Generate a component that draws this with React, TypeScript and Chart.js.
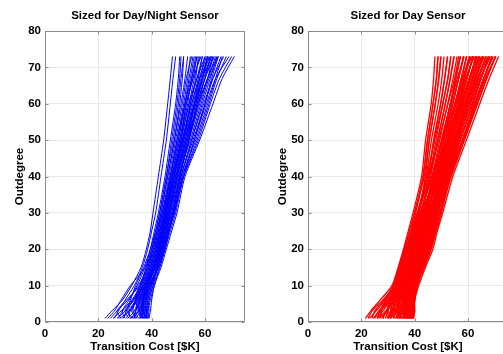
import React, { useEffect, useRef } from "react";
import { Chart, registerables } from "chart.js";

Chart.register(...registerables);

// Outdegree levels at which each curve's transition cost is read
const OUTDEGREE_LEVELS = [1, 3, 6, 10, 15, 20, 25, 30, 40, 50, 60, 67, 73];
const X_TICKS = [0, 20, 40, 60];
const Y_TICKS = [0, 10, 20, 30, 40, 50, 60, 70, 80];

const TITLE_LEFT = "Sized for Day/Night Sensor";
const TITLE_RIGHT = "Sized for Day Sensor";
const X_LABEL = "Transition Cost [$K]";
const Y_LABEL = "Outdegree";

// Transition cost [$K] of each blue curve at the outdegree levels
const DAYNIGHT_COSTS: number[][] = [
  [22.5, 25, 29, 32.5, 36, 38, 39.5, 40.5, 42.5, 44.5, 46, 47, 47.8],
  [26, 27.5, 30, 33.5, 36.5, 38.5, 40, 41.5, 43.5, 45.5, 47, 48, 49],
  [30, 29, 31.5, 34.5, 37.5, 39.5, 41, 42.5, 45, 47, 49, 50, 50.5],
  [33, 31, 33, 35.5, 38, 40, 41.5, 43, 45.5, 48, 50, 51, 52],
  [34.5, 33, 34, 36, 38.5, 40.5, 42, 43.5, 46, 48.5, 51, 52.5, 53.5],
  [29, 31.5, 34.5, 36.5, 39, 41, 42.5, 44, 46.5, 49, 51.5, 53, 55],
  [36, 35, 35.5, 37, 39.5, 41.5, 43, 44.5, 47, 50, 52.5, 54.5, 56],
  [31, 33.5, 35, 37.5, 40, 42, 43.5, 45, 47.5, 50.5, 53, 55.5, 57],
  [37, 36, 36.5, 38, 40.5, 42.5, 44, 45.5, 48, 51, 54, 56, 58],
  [27, 30, 33, 37, 40, 42, 43.5, 45, 48, 51.5, 55, 57.5, 59],
  [35, 34, 35.5, 38.5, 41, 43, 44.5, 46, 49, 52, 55.5, 58, 60],
  [38, 37.5, 37.5, 39, 41, 43, 45, 46.5, 49.5, 53, 56.5, 59, 61],
  [32, 35, 36.5, 38.5, 41.5, 43.5, 45, 47, 50, 53.5, 57, 60, 62],
  [36.5, 37, 38, 39.5, 42, 44, 45.5, 47.5, 50.5, 54, 58, 61, 63],
  [38.5, 38, 38.5, 40, 42.5, 44.5, 46, 48, 51, 55, 59, 62, 64.5],
  [34, 36, 37, 39, 42, 44, 46, 48.5, 51.5, 56, 60, 63, 66],
  [37.5, 38.5, 39, 40.5, 43, 45, 47, 49, 52, 57, 61.5, 64.5, 68],
  [39, 39.5, 40, 41, 43.5, 45.5, 47.5, 49.5, 52.5, 58, 63, 66.5, 71],
  [24.5, 27, 31, 35, 38.5, 40.5, 42, 43.5, 46, 48.5, 50.5, 51.5, 52],
  [33.5, 34, 35.5, 37.5, 40, 42, 44, 45.5, 48.5, 51.5, 54.5, 56.5, 57.5],
  [36, 36.5, 37, 38.5, 41, 43, 45, 46.5, 49.5, 53, 56, 58.5, 61],
  [30.5, 32, 34, 37.5, 40.5, 42.5, 44, 46, 49, 52.5, 56, 59, 62.5],
  [37, 37.5, 38, 39.5, 42, 44, 45.5, 47.5, 51, 55, 59.5, 63, 67],
  [28, 31.5, 35, 38, 41, 43, 44.5, 46.5, 50, 54.5, 58.5, 61.5, 65],
  [35.5, 36, 36.5, 38, 40.5, 42.5, 44, 45.5, 48.5, 52, 54.5, 57, 59],
  [39, 38.5, 38.5, 40, 42, 44, 46, 48, 50.5, 54, 57, 60, 63.5],
  [32.5, 34, 36, 38, 41, 43, 44.5, 46, 49, 53, 57.5, 61, 64],
  [38, 38.5, 39.5, 41, 43, 45, 46.5, 48.5, 52, 56, 60.5, 64, 69],
  [25.5, 28.5, 32.5, 36, 39.5, 41.5, 43, 44.5, 47, 49.5, 52, 53.5, 54.5],
  [37.5, 37, 37, 38.5, 41, 42.5, 44, 45, 47.5, 50.5, 53.5, 55, 56.5],
  [28.5, 27, 30.5, 35.5, 38, 40.5, 42.5, 44, 47, 50, 52.5, 54, 55.5],
  [34, 32.5, 34.5, 38, 40.5, 42.5, 44.5, 46.5, 49.5, 53.5, 57.5, 60, 63],
  [36.5, 35.5, 37, 37.5, 41.5, 43.5, 45, 46, 48.5, 51, 53, 55.5, 58.5],
  [23.5, 26, 28.5, 32, 37.5, 40, 42, 44, 47.5, 51.5, 56, 59, 61.5],
  [38, 36.5, 37.5, 39.5, 42.5, 44.5, 46.5, 48.5, 51.5, 56.5, 61, 64, 66.5],
  [31.5, 30, 33.5, 36.5, 39, 41.5, 43, 45, 48, 51, 54, 57, 60],
  [35.5, 37, 36.5, 38.5, 41, 43.5, 45.5, 47, 50.5, 54, 57.5, 61, 64.5],
  [29.5, 30.5, 32, 34, 37, 39.5, 41.5, 43, 45.5, 47.5, 49.5, 50.5, 51],
  [37, 35.5, 36, 39, 42.5, 45, 46.5, 48, 51, 55.5, 60, 62.5, 65],
  [33, 35, 34, 37, 40.5, 42.5, 44, 45.5, 48, 51.5, 55, 58, 62],
  [38.5, 39, 39, 40.5, 42, 44, 45.5, 47, 49.5, 52.5, 56.5, 59.5, 62.5],
  [27.5, 29, 33, 36, 38.5, 41, 43, 44.5, 47, 49.5, 52.5, 55, 57],
  [36, 37.5, 38, 38.5, 41.5, 43.5, 46, 48, 52, 57.5, 62, 65.5, 70],
  [32, 31.5, 34, 37, 39.5, 41.5, 43.5, 45, 48, 52, 56.5, 59, 61],
  [37.5, 38, 37.5, 39.5, 42, 44.5, 46.5, 48, 50.5, 53.5, 56, 58, 60.5],
];

// Transition cost [$K] of each red curve at the outdegree levels
const DAY_COSTS: number[][] = [
  [21.5, 23.5, 27, 31.5, 33.8, 35.8, 37.6, 39.4, 42.6, 44.1, 46.2, 47.1, 47.6],
  [24, 25, 28.5, 32, 34.2, 36.2, 38.1, 40, 43.6, 45.5, 47.7, 49, 49.8],
  [33, 30, 30.5, 32.5, 34.6, 36.7, 38.6, 40.4, 43.2, 44.9, 46.9, 48.2, 48.8],
  [28, 29.5, 31, 33, 35.1, 37.3, 39.2, 41.1, 44.9, 47.2, 49.8, 51.3, 52.4],
  [36, 33, 32, 33.5, 35.7, 37.8, 39.7, 41.5, 44.3, 46.3, 48.8, 50.2, 51],
  [30.5, 31.5, 32.5, 34, 36.1, 38.4, 40.3, 42.1, 46, 48.6, 51.5, 53.4, 54.8],
  [37.5, 35, 33.5, 34.5, 36.7, 38.9, 40.8, 42.6, 45.5, 48, 50.6, 52.4, 53.6],
  [26, 28, 31, 34.5, 37.2, 39.5, 41.4, 43.3, 47.2, 50.2, 53.4, 55.4, 57.2],
  [34.5, 34, 34, 35, 37.7, 40, 41.9, 43.8, 46.6, 49.4, 52.4, 54.4, 55.9],
  [38.5, 37, 35.5, 35.5, 38.2, 40.6, 42.5, 44.3, 48.4, 51.7, 55.2, 57.5, 59.5],
  [32, 33, 34.5, 36, 38.8, 41.2, 43, 44.9, 47.8, 50.9, 54.3, 56.5, 58.3],
  [36.5, 36, 35.5, 36.5, 39.3, 41.7, 43.6, 45.5, 49.6, 53.2, 57, 59.6, 61.9],
  [39, 38, 37, 37, 39.8, 42.3, 44.1, 46, 49, 52.5, 56.1, 58.6, 60.7],
  [35, 35.5, 36, 37.5, 40.3, 42.8, 44.7, 46.6, 50.8, 54.8, 58.9, 61.7, 64.3],
  [38, 37.5, 37.5, 38, 40.9, 43.4, 45.2, 47.1, 50.2, 54, 58, 60.7, 63.1],
  [39.5, 39, 38.5, 38.5, 41.4, 44, 45.8, 47.7, 51.9, 56.3, 60.7, 63.8, 66.7],
  [37, 37.5, 38, 39, 41.9, 44.5, 46.3, 48.3, 51.4, 55.6, 59.8, 62.8, 65.5],
  [39, 39.5, 39.5, 40, 42.4, 45.1, 46.9, 48.8, 53.1, 57.9, 62.6, 65.9, 69.1],
  [39.5, 39.5, 40, 40.5, 43, 45.7, 47.4, 49.4, 53.7, 58.6, 63.5, 67, 70.3],
  [39.5, 39.5, 40, 41.5, 44, 46.8, 48.5, 50.5, 54.3, 59.4, 64.4, 68, 71.5],
  [38.5, 39, 39.5, 41, 43.5, 46.2, 48, 49.9, 52.5, 57.1, 61.6, 64.9, 67.9],
  [25, 27, 31, 35, 39.5, 42.5, 44.5, 46.5, 50.5, 55, 59.5, 62.5, 65.5],
  [30, 31.5, 34, 36.5, 38.8, 41.2, 43.3, 45.5, 50.2, 54.8, 58.9, 61.7, 64.3],
  [27.5, 29.5, 32.5, 35, 36.7, 38.9, 40.8, 43, 47.5, 51.7, 55.2, 57.5, 59.5],
  [37.5, 37, 37.5, 38.5, 40.9, 43.4, 45.2, 46.5, 48.5, 50.9, 54.3, 56.5, 58.3],
  [35, 34.5, 34.5, 36, 37.7, 40, 42, 44, 49.5, 54, 58, 60.7, 63.1],
  [33.5, 34.5, 36, 37.5, 39.8, 42.3, 44.3, 46.5, 51.8, 57.1, 61.6, 64.9, 67.9],
  [29, 30, 31.5, 33.5, 35.6, 37.8, 40, 42.5, 48, 52.5, 56.1, 58.6, 60.7],
  [39, 39.5, 40, 40.5, 42.4, 45.1, 46.9, 48.3, 50.5, 53.2, 57, 59.6, 61.9],
  [23, 25.5, 29, 32.5, 34.6, 36.6, 38.8, 41, 45.5, 48.6, 51.5, 53.3, 54.7],
  [31, 32.5, 34.5, 36.5, 38.2, 40.6, 42.8, 45.2, 50.5, 55.6, 59.8, 62.8, 65.5],
  [36, 36.5, 37, 38, 40.3, 42.8, 44.8, 47, 52.5, 57.9, 62.6, 65.9, 69.1],
  [36.5, 35, 34.5, 35, 37.2, 39.5, 41.2, 42.8, 45.3, 47.1, 49.7, 51.2, 52.3],
  [34, 35, 36, 37, 39.3, 41.7, 43.6, 45.2, 47.6, 50.2, 53.4, 55.4, 57.1],
  [38, 38.5, 39, 39.5, 41.4, 44, 46, 48.2, 53.4, 58.6, 63.5, 67, 70.3],
  [33.5, 32.5, 32.5, 34, 36.1, 38.3, 40, 41.5, 44, 45.5, 47.8, 49.1, 49.9],
  [37, 36.5, 36, 37, 38.8, 41.2, 43.2, 45.5, 51, 56.3, 60.7, 63.8, 66.7],
  [26.5, 29, 33, 37, 39.8, 42.3, 44.3, 46.3, 50.6, 54.8, 58.9, 61.7, 64.3],
  [38.5, 38.5, 38.5, 39.5, 41.9, 44.5, 46.2, 47.8, 50.5, 54, 58, 60.7, 63.1],
  [36, 36, 35.5, 36.5, 37.7, 40, 42, 44.2, 49, 53.2, 57, 59.6, 61.9],
  [31.5, 31, 31.5, 33, 35.1, 37.2, 39.5, 42, 46.5, 50.2, 53.4, 55.4, 57.1],
  [39.5, 40, 40, 41, 43, 45.7, 47.4, 49, 51.8, 55.6, 59.8, 62.8, 65.5],
  [35, 34, 33.5, 35, 36.7, 39, 41.5, 44, 49.5, 54.8, 58.9, 61.7, 64.3],
  [37.5, 38, 38.5, 39, 40.9, 43.4, 45.4, 47.6, 52.8, 57.9, 62.6, 65.9, 69.1],
  [33, 34, 35.5, 37, 38.8, 41.2, 43.3, 45.8, 51.5, 57.1, 61.6, 64.9, 67.9],
  [27, 27.5, 29, 32, 34, 36.1, 38.1, 39.9, 43.1, 44.8, 46.9, 48.1, 48.7],
  [36.5, 37, 37.5, 38, 40.3, 42.8, 44.6, 46.2, 48.8, 51.7, 55.2, 57.5, 59.5],
  [38, 37, 36.5, 37, 38.2, 40.6, 43, 45.6, 51.8, 58, 63.5, 67, 70.3],
  [28.5, 27, 29.5, 33.5, 36.5, 38.5, 40.5, 42.5, 46.5, 50.5, 54, 56.5, 58.5],
  [35.5, 33.5, 34, 35.5, 38.5, 40.5, 42.5, 44.5, 48.5, 52.5, 56.5, 59, 62.5],
  [37.5, 38, 37, 38.5, 41, 43.5, 45.5, 47.5, 51, 55, 59, 62, 65],
  [24.5, 26.5, 30, 34, 36.5, 38.5, 41, 43.5, 48, 53, 57.5, 60.5, 63.5],
  [39, 37.5, 38.5, 39.5, 42, 44.5, 46.5, 48.5, 52.5, 57, 62, 65, 68],
  [32.5, 31.5, 33, 35, 37.5, 40, 42, 44, 47.5, 51, 55, 58, 60.5],
  [38, 39, 38, 38.5, 41.5, 44, 46, 47.5, 50.5, 54.5, 59.5, 63, 66],
  [30, 32, 33.5, 35.5, 38, 40.5, 42.5, 44.5, 48.5, 52, 55.5, 58, 61.5],
  [36.5, 35.5, 36.5, 37.5, 40, 42.5, 44.5, 46.5, 50, 54, 57.5, 60.5, 63.5],
  [39.5, 39, 39.5, 40, 42.5, 45, 47, 48.5, 51.5, 55.5, 60.5, 64, 67.5],
  [26, 27, 30.5, 33, 35.5, 37.5, 39.5, 41.5, 45.5, 49, 52.5, 55, 56.5],
  [34, 35.5, 35, 36.5, 39, 41.5, 43.5, 45.5, 49.5, 53.5, 58, 61, 64],
  [38, 36.5, 36, 37.5, 40.5, 43, 45, 47, 51, 56, 60, 63, 65.5],
  [33.5, 34, 33, 35, 37, 39.5, 41.5, 43.5, 47, 50, 53.5, 56, 58.5],
  [39, 38.5, 39, 40, 42.5, 45.5, 47.5, 49.5, 53, 58, 62.5, 66, 69.5],
  [31, 29.5, 31.5, 34.5, 37.5, 39.5, 41.5, 43.5, 47.5, 52, 56.5, 59.5, 62],
  [37, 37.5, 38.5, 39, 41.5, 43.5, 45.5, 47, 50, 53, 57.5, 60.5, 63],
  [35.5, 36.5, 37, 38, 40, 42, 44, 46, 50, 55, 59.5, 62.5, 66],
  [22.5, 24, 28, 32.5, 35, 37, 39, 41, 44.5, 47.5, 50.5, 52.5, 53.5],
  [38.5, 37.5, 37.5, 39, 41.5, 44, 46, 48, 52, 56.5, 61, 64.5, 68.5],
  [34.5, 33, 34.5, 36.5, 39, 41.5, 43.5, 45, 48, 51.5, 55.5, 58.5, 61],
  [36, 37, 36.5, 37.5, 39.5, 42, 44, 46, 50.5, 55.5, 60, 63.5, 67],
  [29.5, 31, 32, 34.5, 37, 39, 41.5, 44, 49, 54, 58.5, 61.5, 64.5],
  [39.5, 40, 39.5, 40.5, 43.5, 46, 48, 50, 53.5, 58.5, 63, 66.5, 70.5],
  [37, 36, 35, 36.5, 39, 41, 43, 45, 49, 53, 56.5, 59.5, 62],
];

const FONT_FAMILY = "'Liberation Sans', Arial, Helvetica, sans-serif";
const FRAME_COLOR = "#8a8a8a";

const titlePlugin = {
  id: "centeredTitle",
  afterDraw(chart: any, _args: any, opts: any) {
    const { ctx, chartArea } = chart;
    ctx.save();
    ctx.font = `bold 11.5px ${FONT_FAMILY}`;
    ctx.fillStyle = "#000";
    ctx.textAlign = "center";
    ctx.textBaseline = "middle";
    ctx.fillText(opts.text, (chartArea.left + chartArea.right) / 2, 16);
    ctx.restore();
  },
};

const framePlugin = {
  id: "matlabFrame",
  afterDatasetsDraw(chart: any) {
    const { ctx, chartArea } = chart;
    const l = Math.round(chartArea.left) + 0.5;
    const r = Math.round(chartArea.right) - 0.5;
    const t = Math.round(chartArea.top) + 0.5;
    const b = Math.round(chartArea.bottom) - 0.5;
    ctx.save();
    ctx.strokeStyle = FRAME_COLOR;
    ctx.lineWidth = 1;
    ctx.beginPath();
    ctx.rect(l, t, r - l, b - t);
    const xs = chart.scales.x;
    const ys = chart.scales.y;
    const len = 3;
    X_TICKS.forEach((v) => {
      const px = Math.round(xs.getPixelForValue(v)) + 0.5;
      ctx.moveTo(px, b);
      ctx.lineTo(px, b - len);
      ctx.moveTo(px, t);
      ctx.lineTo(px, t + len);
    });
    Y_TICKS.forEach((v) => {
      const py = Math.round(ys.getPixelForValue(v)) + 0.5;
      ctx.moveTo(l, py);
      ctx.lineTo(l + len, py);
      ctx.moveTo(r, py);
      ctx.lineTo(r - len, py);
    });
    ctx.stroke();
    ctx.restore();
  },
};

function buildDatasets(costs: number[][], color: string, width: number) {
  return costs.map((row) => ({
    data: row.map((c, i) => ({ x: c, y: OUTDEGREE_LEVELS[i] })),
    showLine: true,
    borderColor: color,
    backgroundColor: color,
    borderWidth: width,
    pointRadius: 0,
    pointHoverRadius: 0,
    tension: 0.25,
    fill: false,
  }));
}

function makeConfig(title: string, costs: number[][], color: string, width: number): any {
  const tickFont = { family: FONT_FAMILY, size: 11.5, weight: "bold" as const };
  return {
    type: "scatter",
    data: { datasets: buildDatasets(costs, color, width) },
    plugins: [framePlugin, titlePlugin],
    options: {
      animation: false,
      responsive: false,
      maintainAspectRatio: false,
      devicePixelRatio: 1,
      events: [],
      layout: { padding: { left: 0, right: 5, top: 31, bottom: 0 } },
      plugins: {
        legend: { display: false },
        tooltip: { enabled: false },
        title: { display: false },
        centeredTitle: { text: title },
      },
      scales: {
        x: {
          type: "linear",
          min: 0,
          max: 75,
          afterFit: (s: any) => {
            s.height = 32;
          },
          afterBuildTicks: (s: any) => {
            s.ticks = X_TICKS.map((v) => ({ value: v }));
          },
          ticks: { color: "#000", font: tickFont, padding: 5, maxRotation: 0, autoSkip: false },
          grid: { color: "#e8e8e8", lineWidth: 1, drawTicks: false },
          border: { display: false },
          title: {
            display: true,
            text: X_LABEL,
            color: "#000",
            font: tickFont,
            padding: { top: 0, bottom: 0 },
          },
        },
        y: {
          type: "linear",
          min: 0,
          max: 80,
          afterFit: (s: any) => {
            s.width = 45;
          },
          afterBuildTicks: (s: any) => {
            s.ticks = Y_TICKS.map((v) => ({ value: v }));
          },
          ticks: { color: "#000", font: tickFont, padding: 4, autoSkip: false },
          grid: { color: "#e8e8e8", lineWidth: 1, drawTicks: false },
          border: { display: false },
          title: {
            display: true,
            text: Y_LABEL,
            color: "#000",
            font: tickFont,
            padding: { top: 12.5, bottom: 0 },
          },
        },
      },
    },
  };
}

function Panel(props: {
  left: number;
  title: string;
  costs: number[][];
  color: string;
  width: number;
}) {
  const ref = useRef<HTMLCanvasElement | null>(null);
  useEffect(() => {
    if (!ref.current) return;
    const chart = new Chart(ref.current, makeConfig(props.title, props.costs, props.color, props.width));
    return () => chart.destroy();
  }, []);
  return (
    <canvas
      ref={ref}
      width={250}
      height={354}
      style={{ position: "absolute", left: props.left, top: 0, width: 250, height: 354 }}
    />
  );
}

export default function App() {
  return (
    <div
      style={{
        position: "fixed",
        left: 0,
        top: 0,
        width: 503,
        height: 354,
        overflow: "hidden",
        background: "#fff",
      }}
    >
      <Panel left={0} title={TITLE_LEFT} costs={DAYNIGHT_COSTS} color="#0000ff" width={1} />
      <Panel left={263} title={TITLE_RIGHT} costs={DAY_COSTS} color="#ff0000" width={1.3} />
    </div>
  );
}
